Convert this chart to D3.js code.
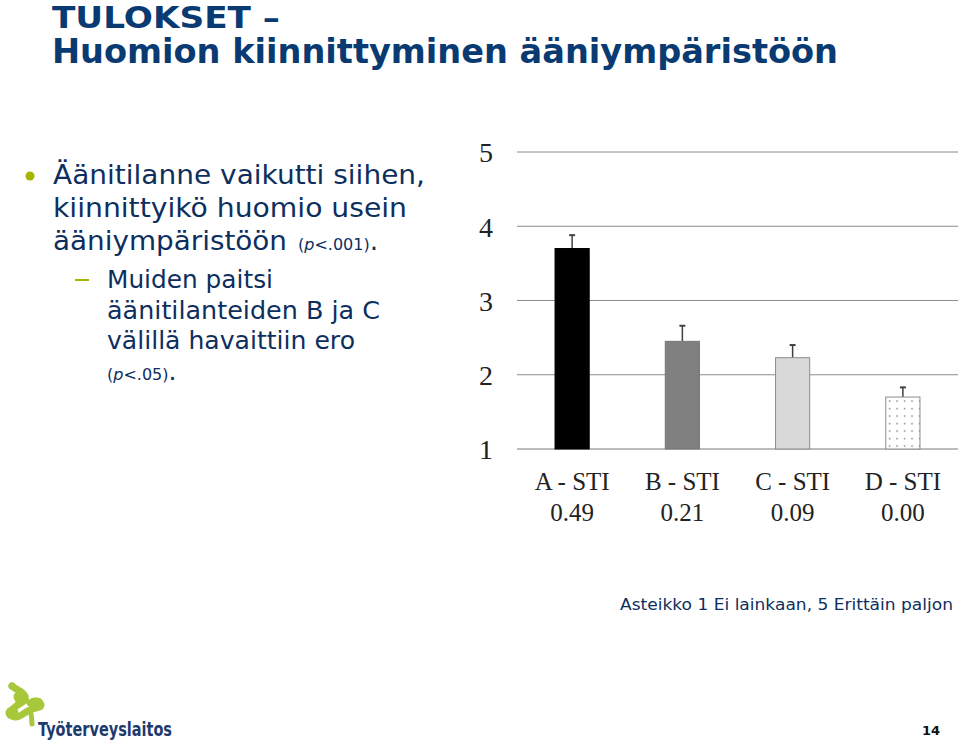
<!DOCTYPE html>
<html><head><meta charset="utf-8">
<script src="https://cdn.jsdelivr.net/npm/d3@7"></script>
<style>body{margin:0;background:#fff}svg{display:block}</style>
</head><body>
<svg id="c" width="960" height="743"></svg>
<script>
const categories = ["A - STI","B - STI","C - STI","D - STI"];
const stiValues = ["0.49","0.21","0.09","0.00"];
const means = [3.70, 2.45, 2.23, 1.70];
const errTops = [3.88, 2.66, 2.40, 1.83];
const yTicks = [1,2,3,4,5];
const fills = ["#000000","#808080","#d9d9d9","url(#dots)"];

const svg = d3.select("#c");
const defs = svg.append("defs");
const pat = defs.append("pattern").attr("id","dots").attr("patternUnits","userSpaceOnUse")
  .attr("width",7.5).attr("height",7.5).attr("x",886).attr("y",0);
pat.append("rect").attr("width",7.5).attr("height",7.5).attr("fill","#fff");
pat.append("rect").attr("x",3).attr("y",3).attr("width",1.2).attr("height",1.2).attr("fill","#444");

const blue = "#0a3a72";
const textBlue = "#0e2f5e";
const olive = "#a9b400";

// Title
svg.append("text").attr("x",52).attr("y",28).attr("font-family","DejaVu Sans").attr("font-weight","bold")
  .attr("font-size",31).attr("fill",blue).attr("textLength",228).attr("lengthAdjust","spacingAndGlyphs").text("TULOKSET –");
svg.append("text").attr("x",52).attr("y",63).attr("font-family","DejaVu Sans").attr("font-weight","bold")
  .attr("font-size",33).attr("fill",blue).attr("textLength",786).attr("lengthAdjust","spacingAndGlyphs").text("Huomion kiinnittyminen ääniympäristöön");

// Bullet
svg.append("circle").attr("cx",30).attr("cy",176).attr("r",4.5).attr("fill",olive);
const t1 = svg.append("g").attr("font-family","Verdana, DejaVu Sans").attr("fill",textBlue);
t1.append("text").attr("x",53).attr("y",184).attr("font-size",26.5).attr("textLength",372).attr("lengthAdjust","spacingAndGlyphs").text("Äänitilanne vaikutti siihen,");
t1.append("text").attr("x",53).attr("y",217).attr("font-size",26.5).attr("textLength",354).attr("lengthAdjust","spacingAndGlyphs").text("kiinnittyikö huomio usein");
const l3 = t1.append("text").attr("x",53).attr("y",250).attr("font-size",26.5);
l3.append("tspan").attr("textLength",234).attr("lengthAdjust","spacingAndGlyphs").text("ääniympäristöön");
l3.append("tspan").attr("x",298).attr("font-size",16).text("(");
l3.append("tspan").attr("font-size",16).attr("font-style","italic").text("p");
l3.append("tspan").attr("font-size",16).text("<.001)");
l3.append("tspan").text(".");

svg.append("rect").attr("x",75).attr("y",279).attr("width",14).attr("height",2).attr("fill",olive);
t1.append("text").attr("x",107).attr("y",288).attr("font-size",25).attr("textLength",166).attr("lengthAdjust","spacingAndGlyphs").text("Muiden paitsi");
t1.append("text").attr("x",107).attr("y",319).attr("font-size",25).attr("textLength",273).attr("lengthAdjust","spacingAndGlyphs").text("äänitilanteiden B ja C");
t1.append("text").attr("x",107).attr("y",349).attr("font-size",25).attr("textLength",248).attr("lengthAdjust","spacingAndGlyphs").text("välillä havaittiin ero");
const l7 = t1.append("text").attr("x",107).attr("y",380).attr("font-size",16);
l7.append("tspan").text("(");
l7.append("tspan").attr("font-style","italic").text("p");
l7.append("tspan").text("<.05)");
l7.append("tspan").attr("font-size",25).text(".");

// Chart
const x = d3.scaleBand().domain(categories).range([517,958]).paddingInner(0.69).paddingOuter(0.345);
const y = d3.scaleLinear().domain([1,5]).range([449,152]);

const g = svg.append("g");
g.selectAll("line.grid").data(yTicks).join("line").attr("class","grid")
  .attr("x1",517).attr("x2",958).attr("y1",d=>y(d)).attr("y2",d=>y(d))
  .attr("stroke",d=>d===1?"#a6a6a6":"#8c8c8c").attr("stroke-width",d=>d===1?1.5:1);

const yAxis = d3.axisLeft(y).tickValues(yTicks).tickSize(0).tickPadding(0).tickFormat(d3.format("d"));
const ya = g.append("g").attr("transform","translate(493,0)").call(yAxis);
ya.select(".domain").remove();
ya.selectAll("text").attr("font-family","Liberation Serif, Times New Roman, serif").attr("font-size",28).attr("fill","#222")
  .attr("text-anchor","end").attr("dy","0.35em");

// error bars
const eb = g.selectAll("g.eb").data(categories).join("g").attr("class","eb");
eb.append("line").attr("x1",d=>x(d)+x.bandwidth()/2).attr("x2",d=>x(d)+x.bandwidth()/2)
  .attr("y1",(d,i)=>y(means[i])).attr("y2",(d,i)=>y(errTops[i])).attr("stroke","#404040").attr("stroke-width",1.5);
eb.append("line").attr("x1",d=>x(d)+x.bandwidth()/2-3).attr("x2",d=>x(d)+x.bandwidth()/2+3)
  .attr("y1",(d,i)=>y(errTops[i])).attr("y2",(d,i)=>y(errTops[i])).attr("stroke","#404040").attr("stroke-width",2);

g.selectAll("rect.bar").data(categories).join("rect").attr("class","bar")
  .attr("x",d=>x(d)).attr("width",x.bandwidth())
  .attr("y",(d,i)=>y(means[i])).attr("height",(d,i)=>y(1)-y(means[i]))
  .attr("fill",(d,i)=>fills[i])
  .attr("stroke",(d,i)=>i===0?"#000":(i===1?"#777":"#8c8c8c")).attr("stroke-width",1);

const xAxis = d3.axisBottom(x).tickSize(0).tickPadding(0);
const xa = g.append("g").attr("transform","translate(0,490)").call(xAxis);
xa.select(".domain").remove();
xa.selectAll("text").attr("font-family","Liberation Serif, Times New Roman, serif").attr("font-size",25).attr("fill","#222").attr("dy",0);
g.selectAll("text.sti").data(stiValues).join("text").attr("class","sti")
  .attr("x",(d,i)=>x(categories[i])+x.bandwidth()/2).attr("y",521).attr("text-anchor","middle")
  .attr("font-family","Liberation Serif, Times New Roman, serif").attr("font-size",25).attr("fill","#222").text(d=>d);

// Scale note
svg.append("text").attr("x",620).attr("y",610).attr("font-family","Verdana, DejaVu Sans").attr("font-size",15.5)
  .attr("fill",textBlue).attr("textLength",333).attr("lengthAdjust","spacingAndGlyphs").text("Asteikko 1 Ei lainkaan, 5 Erittäin paljon");

// Logo
const green = "#a8c83c";
const lg = svg.append("g");
lg.append("circle").attr("cx",12).attr("cy",686).attr("r",3.5).attr("fill",green);
lg.append("path").attr("d","M12,686 C16,690 22,690 25,696 C27,701 20,703 15,707 C11,710 10,716 15,717 C20,718 24,712 30,710 C35,708 40,708 40,704 C40,700 34,700 30,703")
  .attr("fill","none").attr("stroke",green).attr("stroke-width",7).attr("stroke-linecap","round");
lg.append("circle").attr("cx",20).attr("cy",697).attr("r",6.5).attr("fill",green);
lg.append("circle").attr("cx",12).attr("cy",713).attr("r",6.5).attr("fill",green);
lg.append("circle").attr("cx",39).attr("cy",705).attr("r",5.5).attr("fill",green);
lg.append("path").attr("d","M30,710 C32,716 32,720 32,724").attr("fill","none").attr("stroke",green).attr("stroke-width",5).attr("stroke-linecap","round");
svg.append("text").attr("x",38).attr("y",736).attr("font-family","DejaVu Sans").attr("font-weight","bold").attr("font-size",19)
  .attr("fill","#1d3a6e").attr("textLength",134).attr("lengthAdjust","spacingAndGlyphs").text("Työterveyslaitos");

// page number
svg.append("text").attr("x",940).attr("y",735).attr("text-anchor","end").attr("font-family","DejaVu Sans").attr("font-weight","bold")
  .attr("font-size",13).attr("fill","#111").text("14");
</script>
</body></html>
